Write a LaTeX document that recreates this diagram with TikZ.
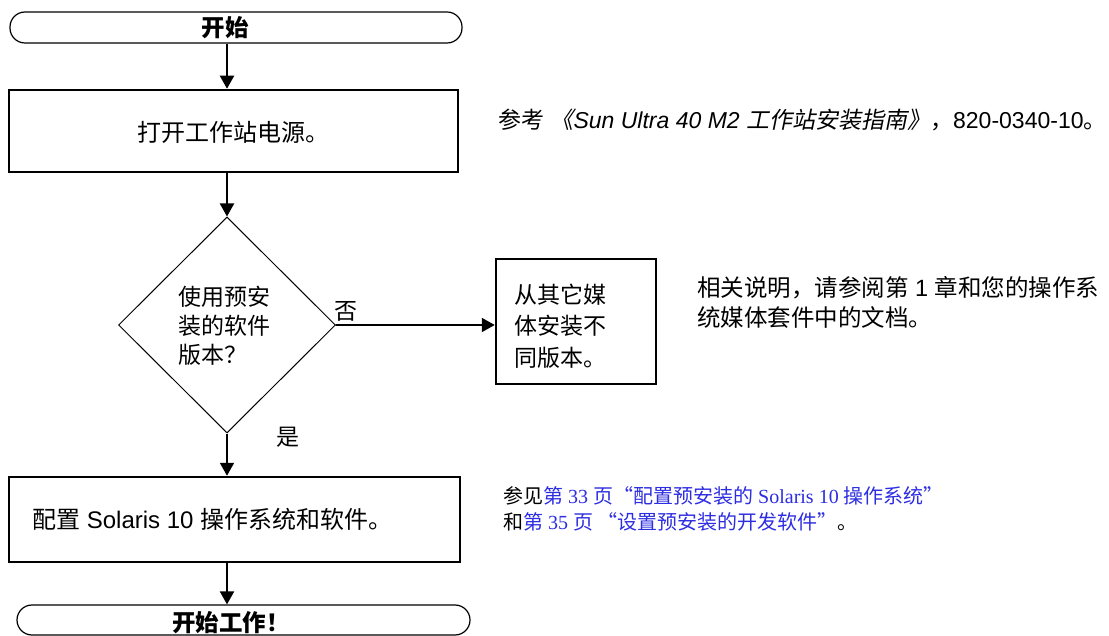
\documentclass[tikz,border=0pt]{standalone}
\usepackage{fontspec}
\setmainfont{Liberation Sans}
\newfontfamily\cjk{Noto Sans CJK SC}
\newfontfamily\cjkit{Noto Sans CJK SC}[FakeSlant=0.2]
\newfontfamily\serifl{Liberation Serif}
\usetikzlibrary{shapes.geometric,arrows.meta}
\definecolor{linkblue}{RGB}{45,45,225}
\tikzset{
  term/.style={draw, line width=1.2pt, rounded corners=15pt, inner sep=0pt},
  proc/.style={draw, line width=2.5pt, inner sep=0pt},
  decision/.style={draw, diamond, aspect=1, line width=1pt, inner sep=0pt,
    minimum width=217pt, minimum height=216pt},
  arr/.style={line width=2pt, -{Triangle[length=13pt,width=14pt]}},
  txt/.style={inner sep=0pt, font=\fontsize{24}{29}\selectfont},
  dtxt/.style={inner sep=0pt, anchor=west, align=left, font=\fontsize{23}{29}\selectfont},
  btxt/.style={inner sep=0pt, font=\fontsize{23.5}{26}\selectfont\bfseries},
  note/.style={inner sep=0pt, anchor=west, align=left, font=\fontsize{23.5}{30}\selectfont},
}
\begin{document}
\begin{tikzpicture}[x=1pt,y=-1pt]
\useasboundingbox (0,0) rectangle (1109,636);
\coordinate (ax) at (227,0);
% start
\node[term, minimum width=452pt, minimum height=31pt] (start) at (236,27.5) {};
\node[btxt] (starttext) at (225,28) {\cjk 开始};
% box 1
\node[proc, minimum width=449pt, minimum height=82pt] (box1) at (233.5,131) {};
\node[txt] (box1text) at (233,132) {\cjk 打开工作站电源。};
% decision
\node[decision] (dec) at (227,325) {};
\node[dtxt] (dectext) at (178,326) {\cjk 使用预安\\\cjk 装的软件\\\cjk 版本？};
% box 2
\node[proc, minimum width=160pt, minimum height=125pt] (box2) at (576,321.5) {};
\node[dtxt, font=\fontsize{23}{31.5}\selectfont] (box2text) at (514,326) {\cjk 从其它媒\\\cjk 体安装不\\\cjk 同版本。};
% labels
\node[dtxt, anchor=center] (no) at (346,311) {\cjk 否};
\node[dtxt, anchor=center] (yes) at (288,437) {\cjk 是};
% box 3
\node[proc, minimum width=451pt, minimum height=85pt] (box3) at (234.5,519.5) {};
\node[txt, anchor=west] (box3text) at (32,519) {{\cjk 配置} Solaris 10 {\cjk 操作系统和软件。}};
% end
\node[term, minimum width=453pt, minimum height=30pt] (stop) at (243.5,620) {};
\node[btxt] (stoptext) at (231,623) {\cjk 开始工作！};
% connectors
\draw[arr] (start.south -| ax) -- (box1.north -| ax);
\draw[arr] (box1.south -| ax) -- (dec.north);
\draw[arr] (dec.east) -- (dec.east -| box2.west);
\draw[arr] (dec.south) -- (box3.north -| ax);
\draw[arr] (box3.south -| ax) -- (stop.north -| ax);
% notes
\node[note, font=\fontsize{23}{30}\selectfont] (note1) at (498,120) {{\cjk 参考} {\cjkit 《}{\itshape Sun Ultra 40 M2 }{\cjkit 工作站安装指南》}{\cjk ，}820-0340-10{\cjk 。}};
\node[note] (note2) at (697,302) {{\cjk 相关说明，请参阅第} 1 {\cjk 章和您的操作系}\\{\cjk 统媒体套件中的文档。}};
\node[note, font=\fontsize{20}{26}\selectfont\cjk] (note3) at (503,509) {参见{\color{linkblue}第{\serifl\ 33 }页“配置预安装的{\serifl\ Solaris 10 }操作系统”}\\和{\color{linkblue}第{\serifl\ 35 }页 “设置预安装的开发软件”}。};
\end{tikzpicture}
\end{document}
